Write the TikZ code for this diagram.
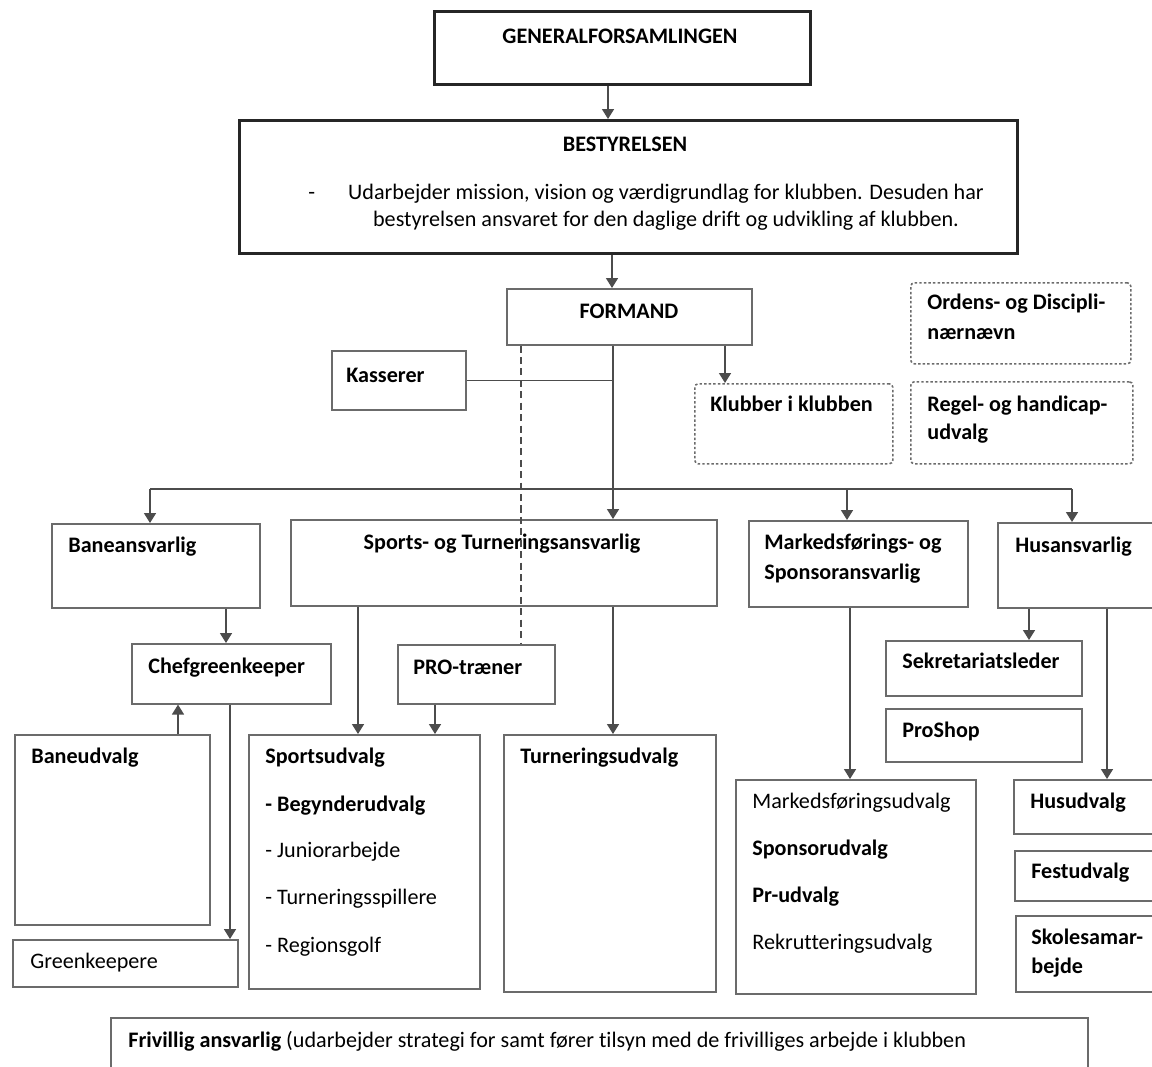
\documentclass[tikz,border=0pt]{standalone}
\usepackage{fontspec}
\setmainfont{Carlito}[Ligatures={NoCommon}]
\usetikzlibrary{arrows.meta}

\definecolor{boxgray}{gray}{0.42}
\definecolor{linegray}{gray}{0.3}
\newcommand{\orgsize}{\fontsize{12.6}{15.2}\selectfont}

\tikzset{
  box/.style={draw=boxgray, line width=0.9pt, anchor=north west, inner sep=0pt},
  heavy/.style={draw=black!85, line width=1.8pt, anchor=north west, inner sep=0pt},
  dotbox/.style={box, dash pattern=on 1.4pt off 1.2pt, rounded corners=2pt},
  wh/.style 2 args={minimum width=#1*0.02cm, minimum height=#2*0.02cm},
  reg/.style={anchor=mid west, inner sep=0pt, yshift=-0.05cm, font=\orgsize},
  lbl/.style={reg, font=\orgsize\bfseries},
  title/.style={lbl, anchor=mid},
  conn/.style={draw=linegray, line width=0.9pt},
  arr/.style={conn, -{Triangle[width=0.24cm,length=0.2cm]}},
}

\begin{document}
\begin{tikzpicture}[x=0.02cm, y=-0.02cm, font=\orgsize]
  \useasboundingbox (0,0) rectangle (1152,1066);
  \clip (0,0) rectangle (1152,1066);

  % top of the chart
  \node[heavy, wh={376}{73}] (gen) at (433,10) {};
  \node[title] (genT) at (620,37) {GENERALFORSAMLINGEN};
  \node[heavy, wh={778}{133}] (best) at (238,119) {};
  \node[title] (bestT) at (625,145) {BESTYRELSEN};
  \node[reg] (bestD) at (308,193) {-};
  \node[align=center, inner sep=0pt, anchor=north] (bestL) at (666,184)
    {Udarbejder mission, vision og værdigrundlag for klubben. Desuden har\\
     bestyrelsen ansvaret for den daglige drift og udvikling af klubben.};

  \node[box, wh={245}{56}] (form) at (506,288) {};
  \node[title] (formT) at (629,312) {FORMAND};
  \node[box, wh={134}{59}] (kass) at (331,350) {};
  \node[lbl] (kassT) at (346,376) {Kasserer};

  % dotted side boxes
  \node[dotbox, wh={198}{80}] (klub) at (694,383) {};
  \node[lbl] (klubT) at (710,405) {Klubber i klubben};
  \node[dotbox, wh={220}{81}] (ord) at (910,282) {};
  \node[lbl] (ordT1) at (927,303) {Ordens- og Discipli-};
  \node[lbl] (ordT2) at (927,333) {nærnævn};
  \node[dotbox, wh={222}{82}] (regel) at (910,381) {};
  \node[lbl] (regelT1) at (927,405) {Regel- og handicap-};
  \node[lbl] (regelT2) at (927,433) {udvalg};

  % second row
  \node[box, wh={208}{84}] (bane) at (51,523) {};
  \node[lbl] (baneT) at (68,546) {Baneansvarlig};
  \node[box, wh={426}{86}] (sport) at (290,519) {};
  \node[title] (sportT) at (502,543) {Sports- og Turneringsansvarlig};
  \node[box, wh={219}{86}] (mark) at (748,520) {};
  \node[lbl] (markT1) at (764,543) {Markedsførings- og};
  \node[lbl] (markT2) at (764,573) {Sponsoransvarlig};
  \node[box, wh={170}{85}] (hus) at (997,522) {};
  \node[lbl] (husT) at (1015,546) {Husansvarlig};

  % third row
  \node[box, wh={199}{60}] (chef) at (131,643) {};
  \node[lbl] (chefT) at (148,667) {Chefgreenkeeper};
  \node[box, wh={157}{59}] (pro) at (397,644) {};
  \node[lbl] (proT) at (413,668) {PRO-træner};
  \node[box, wh={196}{55}] (sekr) at (885,640) {};
  \node[lbl] (sekrT) at (902,662) {Sekretariatsleder};
  \node[box, wh={196}{53}] (shop) at (885,708) {};
  \node[lbl] (shopT) at (902,731) {ProShop};

  % committees
  \node[box, wh={195}{190}] (baneud) at (14,734) {};
  \node[lbl] (baneudT) at (31,757) {Baneudvalg};
  \node[box, wh={225}{47}] (green) at (12,939) {};
  \node[reg] (greenT) at (30,962) {Greenkeepere};
  \node[box, wh={231}{254}] (sportud) at (248,734) {};
  \node[lbl] (su1) at (265,757) {Sportsudvalg};
  \node[lbl] (su2) at (265,805) {- Begynderudvalg};
  \node[reg] (su3) at (265,851) {- Juniorarbejde};
  \node[reg] (su4) at (265,898) {- Turneringsspillere};
  \node[reg] (su5) at (265,946) {- Regionsgolf};
  \node[box, wh={212}{257}] (turn) at (503,734) {};
  \node[lbl] (turnT) at (520,757) {Turneringsudvalg};
  \node[box, wh={240}{214}] (markud) at (735,779) {};
  \node[reg] (mu1) at (752,802) {Markedsføringsudvalg};
  \node[lbl] (mu2) at (752,849) {Sponsorudvalg};
  \node[lbl] (mu3) at (752,896) {Pr-udvalg};
  \node[reg] (mu4) at (752,943) {Rekrutteringsudvalg};
  \node[box, wh={160}{54}] (husud) at (1013,779) {};
  \node[lbl] (husudT) at (1030,802) {Husudvalg};
  \node[box, wh={160}{50}] (fest) at (1014,850) {};
  \node[lbl] (festT) at (1031,872) {Festudvalg};
  \node[box, wh={160}{76}] (skole) at (1015,915) {};
  \node[lbl] (skoleT1) at (1031,938) {Skolesamar-};
  \node[lbl] (skoleT2) at (1031,967) {bejde};

  \node[box, wh={977}{80}] (friv) at (110,1017) {};
  \node[reg] (frivT) at (128,1041) {\textbf{Frivillig ansvarlig} (udarbejder strategi for samt fører tilsyn med de frivilliges arbejde i klubben};

  % columns for the connectors
  \coordinate (cGen) at (608,0);
  \coordinate (cBest) at (612,0);
  \coordinate (cMain) at (613,0);
  \coordinate (cDash) at (521,0);
  \coordinate (cKlub) at (725,0);
  \coordinate (busL) at (150,489);
  \coordinate (busM) at (847,489);
  \coordinate (busR) at (1072,489);
  \coordinate (cChef) at (226,0);
  \coordinate (cUp) at (178,0);
  \coordinate (cGreen) at (230,0);
  \coordinate (cSu) at (358,0);
  \coordinate (cPro) at (435,0);
  \coordinate (cMu) at (850,0);
  \coordinate (cSekr) at (1029,0);
  \coordinate (cHusud) at (1107,0);

  % connectors
  \draw[arr] (cGen |- gen.south) -- (cGen |- best.north);
  \draw[arr] (cBest |- best.south) -- (cBest |- form.north);
  \draw[conn] (kass.east) -- (kass.east -| cMain);
  \draw[arr] (cMain |- form.south) -- (cMain |- sport.north);
  \draw[conn, dash pattern=on 4pt off 2.5pt] (cDash |- form.south) -- (cDash |- pro.north);
  \draw[arr] (cKlub |- form.south) -- (cKlub |- klub.north);
  \draw[conn] (busL) -- (busR);
  \draw[arr] (busL) -- (busL |- bane.north);
  \draw[arr] (busM) -- (busM |- mark.north);
  \draw[arr] (busR) -- (busR |- hus.north);
  \draw[arr] (cChef |- bane.south) -- (cChef |- chef.north);
  \draw[arr] (cUp |- baneud.north) -- (cUp |- chef.south);
  \draw[arr] (cGreen |- chef.south) -- (cGreen |- green.north);
  \draw[arr] (cSu |- sport.south) -- (cSu |- sportud.north);
  \draw[arr] (cPro |- pro.south) -- (cPro |- sportud.north);
  \draw[arr] (cMain |- sport.south) -- (cMain |- turn.north);
  \draw[arr] (cMu |- mark.south) -- (cMu |- markud.north);
  \draw[arr] (cSekr |- hus.south) -- (cSekr |- sekr.north);
  \draw[arr] (cHusud |- hus.south) -- (cHusud |- husud.north);
\end{tikzpicture}
\end{document}
